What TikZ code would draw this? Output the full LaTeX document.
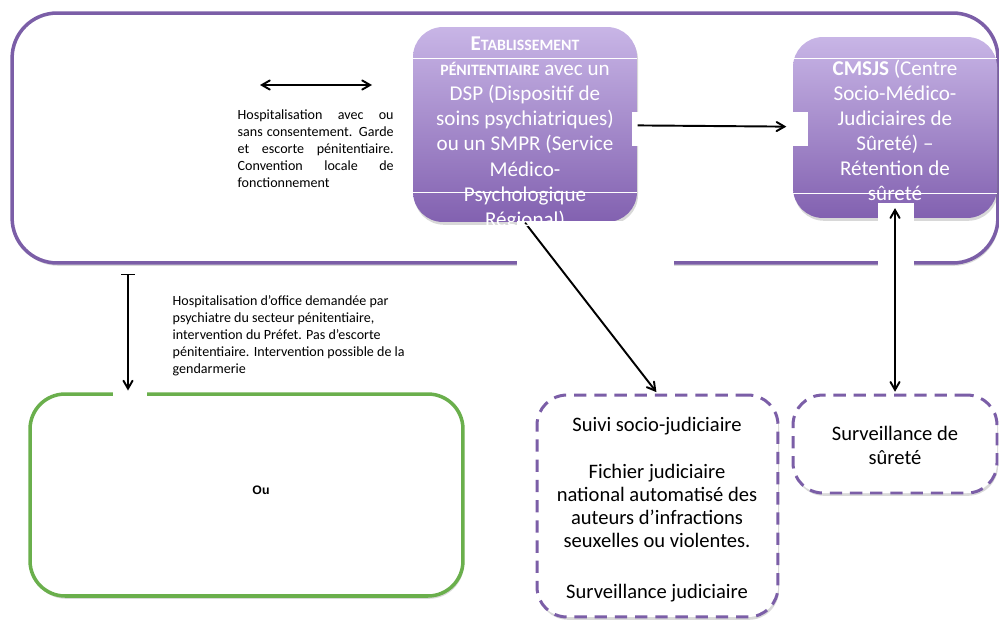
\documentclass[tikz,border=0pt]{standalone}
\usepackage{fontspec}
\setmainfont{Carlito}
\newfontfamily\helv{Liberation Sans}
\usepackage{tikz}
\usetikzlibrary{arrows,shapes,shadows}

\definecolor{cadreviolet}{HTML}{7B5EA7}
\definecolor{hautviolet}{HTML}{C8B5E6}
\definecolor{basviolet}{HTML}{8261B0}
\definecolor{cadrevert}{HTML}{6AAF4C}

\begin{document}
\begin{tikzpicture}[x=0.02cm,y=-0.02cm,>=angle 60,thick,
		ombre/.style={drop shadow={shadow xshift=0.6pt,shadow yshift=-1.6pt,opacity=0.3}},
		cadre/.style={rectangle,draw=cadreviolet,line width=2pt,fill=white,ombre},
		etab/.style={rectangle,rounded corners=0.6cm,top color=hautviolet,bottom color=basviolet,ombre},
		pointille/.style={rectangle,rounded corners=0.6cm,draw=cadreviolet,line width=1.7pt,dash pattern=on 7pt off 4.5pt,fill=white,ombre},
		texte/.style={inner sep=0pt,align=center,font=\fontsize{12}{14.3}\selectfont},
		petit/.style={inner sep=0pt,font=\fontsize{8}{9.7}\selectfont},
		fleche/.style={line width=1.1pt},
		masque/.style={fill=white}]
		
		\useasboundingbox (0,0) rectangle (999,619);
		
		% cadres
		\node[cadre,rounded corners=0.9cm,minimum width=19.72cm,minimum height=5cm](prison) at (505,138) {};
		\node[etab,minimum width=4.48cm,minimum height=3.9cm](dsp) at (525,124.5) {};
		\node[etab,minimum width=4.08cm,minimum height=3.62cm](cmsjs) at (895,127.5) {};
		\node[pointille,minimum width=4.82cm,minimum height=4.44cm](suivi) at (657.5,506) {};
		\node[pointille,minimum width=4.08cm,minimum height=1.96cm](surv) at (895,444) {};
		\node[cadre,draw=cadrevert,rounded corners=0.7cm,minimum width=8.66cm,minimum height=4.04cm](hopital) at (246.5,495) {};
		
		\draw[white,line width=0.5pt] (413,58) -- (637,58) (413,192) -- (637,192);
		\draw[white,line width=0.5pt] (793,58) -- (997,58) (793,193) -- (997,193);
		
		% fonds blancs sous les fleches
		\fill[masque] (517,221) rectangle (674,268);
		\fill[masque] (878,203) rectangle (914,270);
		\fill[masque] (632,112) rectangle (645,146);
		\fill[masque] (778,112) rectangle (808,146);
		\fill[masque] (113,389) rectangle (147,402);
		
		% fleches
		\coordinate (gauche) at (260,85);
		\coordinate (droite) at (372,85);
		\coordinate (axe) at (128,0);
		
		\path[fleche]
		(gauche) edge [<->] (droite)
		(dsp) edge [->,shorten >=3.4pt] (cmsjs)
		(dsp.south) edge [->,shorten >=1pt] (suivi.north)
		([yshift=6pt]cmsjs.south) edge [<->,shorten >=1pt] (surv.north)
		(prison.south -| axe) edge [|->,shorten <=5pt,shorten >=1pt] (hopital.north -| axe);
		
		% textes
		\node[texte,text=white,anchor=north](dsptexte) at (525,36) {\textbf{E\fontsize{9}{14.3}\selectfont TABLISSEMENT}\\
			{\fontsize{9}{14.3}\selectfont\textbf{PÉNITENTIAIRE}} avec un\\ DSP (Dispositif de\\ soins psychiatriques)\\ ou un SMPR (Service\\ Médico-\\ Psychologique\\ Régional)};
		\node[texte,text=white,anchor=north](cmsjstexte) at (895,59) {\textbf{CMSJS} (Centre\\ Socio-Médico-\\ Judiciaires de\\ Sûreté) –\\ Rétention de\\ sûreté};
		\node[texte,anchor=north,font=\fontsize{11.7}{13.2}\selectfont](suivitexte) at (657,417) {Suivi socio-judiciaire\\[13pt] Fichier judiciaire\\ national automatisé des\\ auteurs d’infractions\\ seuxelles ou violentes.\\[15.8pt] Surveillance judiciaire};
		\node[texte,anchor=north,font=\fontsize{11.7}{13.2}\selectfont](survtexte) at (895,426) {Surveillance de\\ sûreté};
		\node[font=\helv\bfseries\fontsize{7}{8}\selectfont](ou) at (261,490) {Ou};
		
		\node[petit,anchor=north west,text width=3.12cm,align=justify](txtconv) at (237,109) {Hospitalisation avec ou\linebreak sans consentement. Garde\linebreak et escorte pénitentiaire.\linebreak Convention locale de\linebreak fonctionnement};
		\node[petit,anchor=north west,align=left](txtoffice) at (172,295) {Hospitalisation d’office demandée par\\ psychiatre du secteur pénitentiaire,\\ intervention du Préfet. Pas d’escorte\\ pénitentiaire. Intervention possible de la\\ gendarmerie};
		
	\end{tikzpicture}
\end{document}
